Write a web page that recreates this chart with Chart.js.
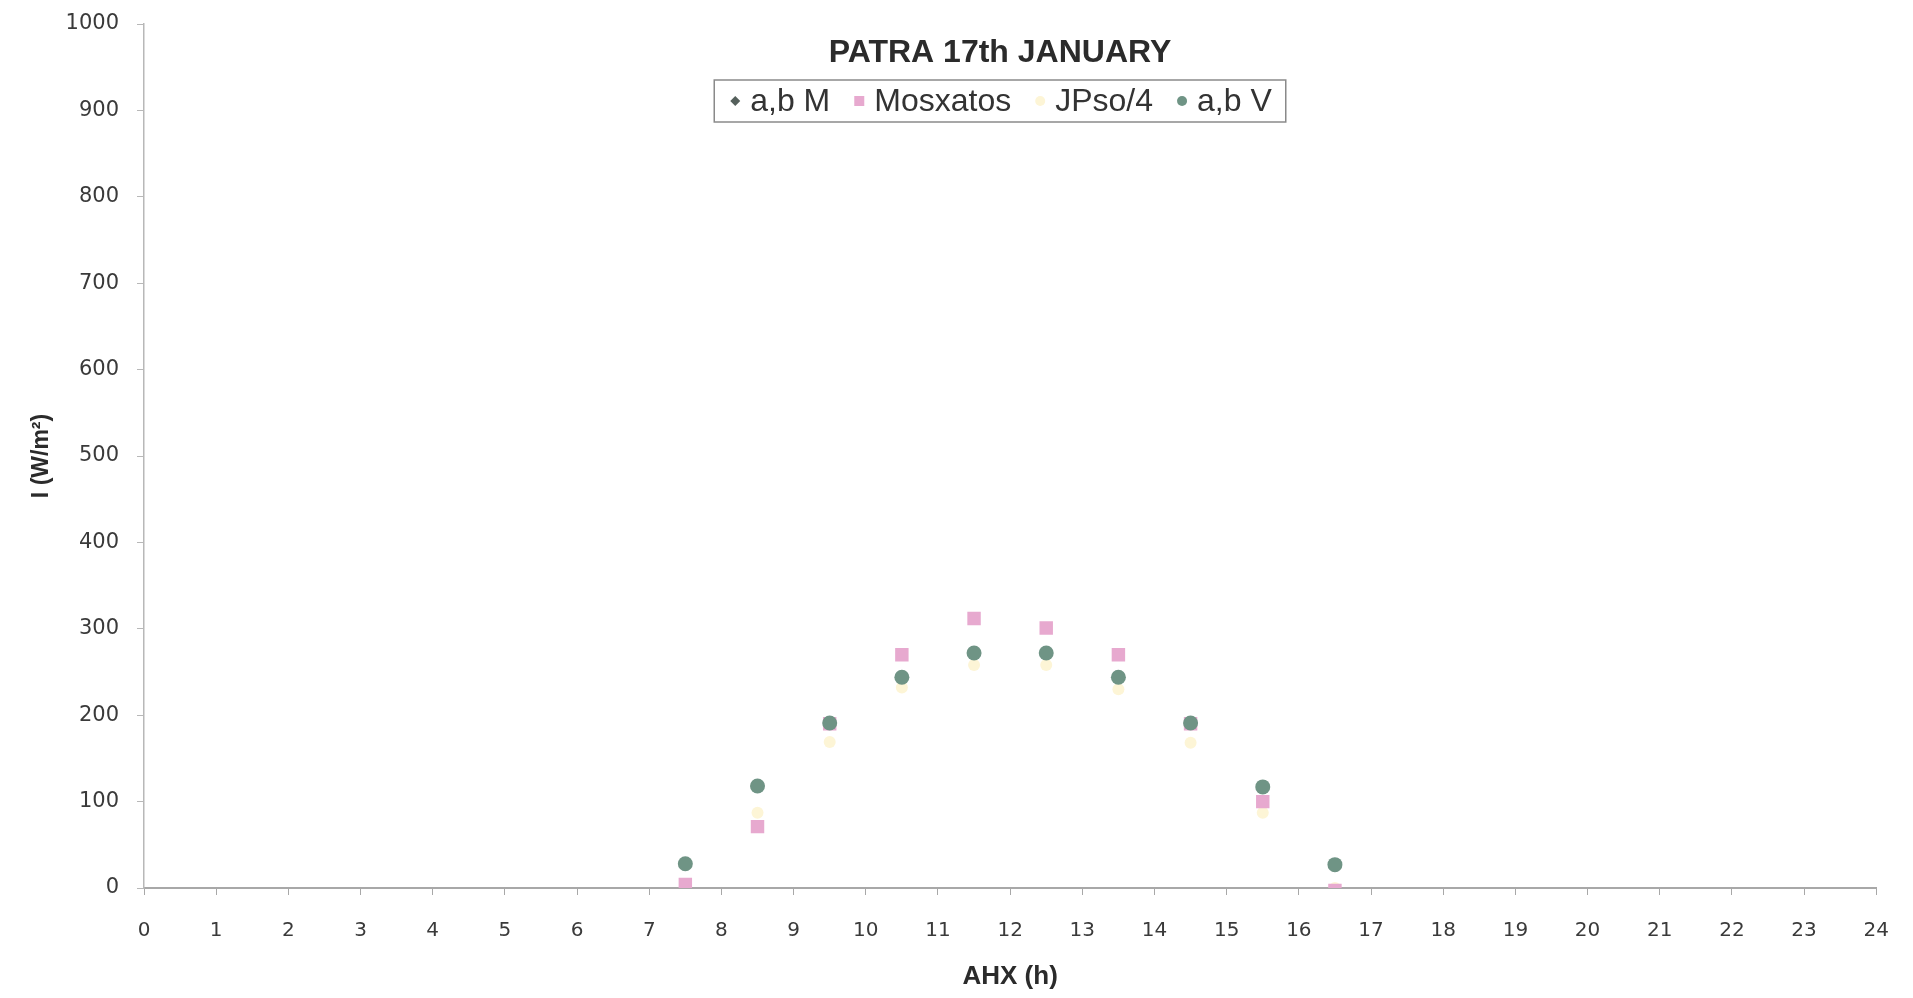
<!DOCTYPE html>
<html lang="en">
<head>
    <meta charset="UTF-8">
    <title>PATRA 17th JANUARY</title>
    <script src="https://cdn.jsdelivr.net/npm/chart.js"></script>
    <style>
        html, body {
            margin: 0;
            padding: 0;
            background: #ffffff;
        }
        #wrap {
            position: relative;
            width: 1913px;
            height: 998px;
        }
    </style>
</head>
<body>
    <div id="wrap">
        <canvas id="chart"></canvas>
    </div>

    <script>
        // hour angle positions (h)
        const horas = [7.5, 8.5, 9.5, 10.5, 11.5, 12.5, 13.5, 14.5, 15.5, 16.5];

        // irradiance, W/m2
        const abM = [28, 118, 191, 244, 272, 272, 244, 191, 118, 28];
        const mosxatos = [4, 71, 190, 270, 312, 301, 270, 190, 100, -3];
        const jpso4 = [0, 87, 169, 232, 258, 258, 230, 168, 87, 0];
        const abV = [28, 118, 191, 244, 272, 272, 244, 191, 117, 27];

        const tituloGrafico = 'PATRA 17th JANUARY';
        const tituloX = 'AHX (h)';
        const tituloY = 'I (W/m\u00B2)';

        function pontos(valores) {
            return horas.map((h, i) => ({ x: h, y: valores[i] }));
        }

        // title + legend box drawn inside the plot, like the original
        const legendaInterna = {
            id: 'legendaInterna',
            afterDraw(chart) {
                const ctx = chart.ctx;
                const cx = 1000;
                ctx.save();
                ctx.fillStyle = '#2b2b2b';
                ctx.font = 'bold 32px "Liberation Sans", Arial, sans-serif';
                ctx.textAlign = 'center';
                ctx.textBaseline = 'middle';
                ctx.fillText(tituloGrafico, cx, 53);

                ctx.font = '32px "Liberation Sans", Arial, sans-serif';
                const itens = chart.data.datasets.slice().sort((a, b) => a.legendIndex - b.legendIndex);
                const marcador = 14, gapTexto = 8, gapItem = 22;
                let largura = 0;
                itens.forEach(ds => {
                    largura += marcador + gapTexto + ctx.measureText(ds.label).width;
                });
                largura += gapItem * (itens.length - 1);
                const padX = 14;
                const x0 = cx - largura / 2 - padX;
                const y0 = 80, alt = 42;
                ctx.fillStyle = '#ffffff';
                ctx.fillRect(x0, y0, largura + padX * 2, alt);
                ctx.strokeStyle = '#8a8a8a';
                ctx.lineWidth = 1.5;
                ctx.strokeRect(x0, y0, largura + padX * 2, alt);

                let x = x0 + padX;
                const ym = y0 + alt / 2;
                ctx.textAlign = 'left';
                itens.forEach(ds => {
                    const mx = x + marcador / 2;
                    ctx.fillStyle = ds.backgroundColor;
                    ctx.beginPath();
                    if (ds.pointStyle === 'rectRot') {
                        ctx.moveTo(mx, ym - 5);
                        ctx.lineTo(mx + 5, ym);
                        ctx.lineTo(mx, ym + 5);
                        ctx.lineTo(mx - 5, ym);
                        ctx.closePath();
                    } else if (ds.pointStyle === 'rect') {
                        ctx.rect(mx - 5, ym - 5, 10, 10);
                    } else {
                        ctx.arc(mx, ym, 5, 0, Math.PI * 2);
                    }
                    ctx.fill();
                    x += marcador + gapTexto;
                    ctx.fillStyle = '#333333';
                    ctx.fillText(ds.label, x, ym + 1);
                    x += ctx.measureText(ds.label).width + gapItem;
                });
                ctx.restore();
            }
        };

        const ctx = document.getElementById('chart').getContext('2d');
        new Chart(ctx, {
            type: 'scatter',
            data: {
                datasets: [
                    {
                        label: 'a,b M',
                        legendIndex: 0,
                        data: pontos(abM),
                        pointStyle: 'rectRot',
                        pointRadius: 6,
                        backgroundColor: '#55605c',
                        borderWidth: 0,
                        order: 1
                    },
                    {
                        label: 'Mosxatos',
                        legendIndex: 1,
                        data: pontos(mosxatos),
                        pointStyle: 'rect',
                        pointRadius: 9.5,
                        backgroundColor: '#e7a9cf',
                        borderWidth: 0,
                        order: 2
                    },
                    {
                        label: 'JPso/4',
                        legendIndex: 2,
                        data: pontos(jpso4),
                        pointStyle: 'circle',
                        pointRadius: 6,
                        backgroundColor: '#fdf5d6',
                        borderWidth: 0,
                        order: 3
                    },
                    {
                        label: 'a,b V',
                        legendIndex: 3,
                        data: pontos(abV),
                        pointStyle: 'circle',
                        pointRadius: 7.5,
                        backgroundColor: '#6f9485',
                        borderWidth: 0,
                        order: 0
                    }
                ]
            },
            options: {
                responsive: true,
                maintainAspectRatio: false,
                animation: false,
                layout: {
                    padding: { top: 24, right: 36, bottom: 6, left: 10 }
                },
                plugins: {
                    legend: { display: false },
                    tooltip: { enabled: false }
                },
                scales: {
                    x: {
                        type: 'linear',
                        min: 0,
                        max: 24,
                        ticks: {
                            stepSize: 1,
                            color: '#3a3a3a',
                            padding: 24,
                            maxRotation: 0,
                            font: { family: '"DejaVu Sans", sans-serif', size: 20 }
                        },
                        grid: {
                            drawOnChartArea: false,
                            drawTicks: true,
                            tickLength: 7,
                            color: '#a8a8a8'
                        },
                        border: { color: '#a8a8a8', width: 2 },
                        title: {
                            display: true,
                            text: tituloX,
                            color: '#2b2b2b',
                            padding: { top: 2, bottom: 0 },
                            font: { family: '"Liberation Sans", Arial, sans-serif', size: 26, weight: 'bold' }
                        },
                        afterFit(scale) { scale.height = 104; }
                    },
                    y: {
                        min: 0,
                        max: 1000,
                        ticks: {
                            stepSize: 100,
                            color: '#3a3a3a',
                            padding: 18,
                            callback: v => String(v),
                            font: { family: '"DejaVu Sans", sans-serif', size: 21 }
                        },
                        grid: {
                            drawOnChartArea: false,
                            drawTicks: true,
                            tickLength: 7,
                            color: '#b8b8b8'
                        },
                        border: { color: '#b8b8b8', width: 1.5 },
                        title: {
                            display: true,
                            text: tituloY,
                            color: '#2b2b2b',
                            padding: { top: 18, bottom: 20 },
                            font: { family: '"Liberation Sans", Arial, sans-serif', size: 23, weight: 'bold' }
                        },
                        afterFit(scale) {
                            scale.width = 134;
                            scale.paddingTop = 0;
                        }
                    }
                }
            },
            plugins: [legendaInterna]
        });
    </script>
</body>
</html>
